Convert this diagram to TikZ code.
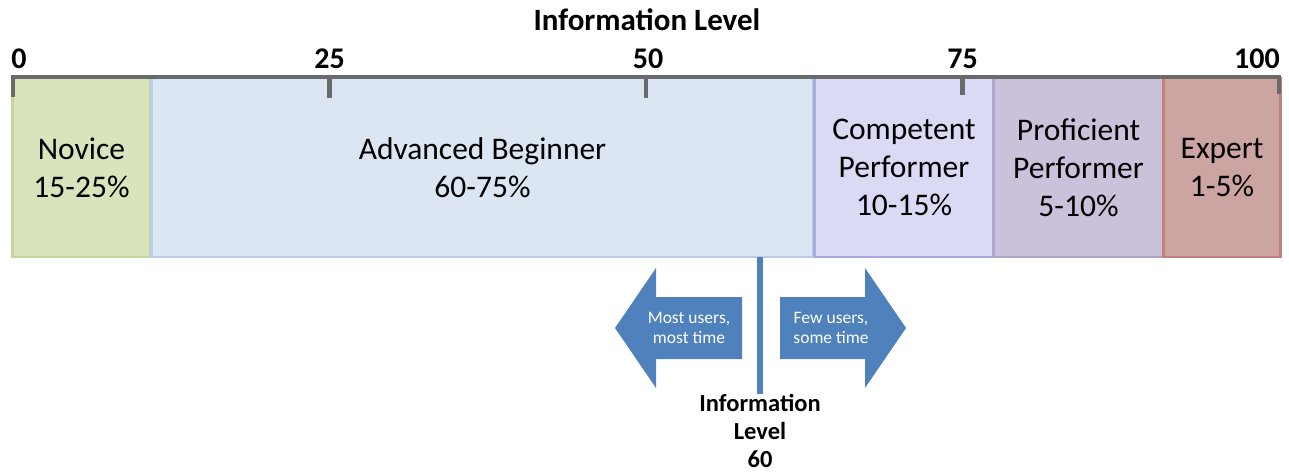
\documentclass[tikz,border=0pt]{standalone}
\usepackage{fontspec}
\setmainfont{Carlito}
\begin{document}
\begin{tikzpicture}[x=1pt,y=-1pt,
  band/.style={draw, line width=2.5pt, rectangle, inner sep=0pt, align=center,
    font=\fontsize{31.5}{38}\selectfont, minimum height=179pt},
  ticklabel/.style={font=\fontsize{30}{34}\selectfont\bfseries, inner sep=0pt},
  axis/.style={draw=axisgray, line width=4.5pt},
  blockarrow/.style={fill=arrowblue},
  arrowtext/.style={text=white, align=center, font=\fontsize{17.5}{20}\selectfont, inner sep=0pt}
]
\definecolor{axisgray}{RGB}{106,106,106}
\definecolor{arrowblue}{RGB}{79,129,189}
\definecolor{novfill}{RGB}{216,228,188}
\definecolor{novdraw}{RGB}{195,214,155}
\definecolor{advfill}{RGB}{220,230,242}
\definecolor{advdraw}{RGB}{185,205,229}
\definecolor{compfill}{RGB}{218,218,244}
\definecolor{compdraw}{RGB}{170,170,228}
\definecolor{proffill}{RGB}{204,193,218}
\definecolor{profdraw}{RGB}{179,162,199}
\definecolor{expfill}{RGB}{204,164,162}
\definecolor{expdraw}{RGB}{192,128,126}

\useasboundingbox (0,0) rectangle (1289,473);

% title
\node[ticklabel, font=\fontsize{31}{34}\selectfont\bfseries] (title) at (647,20) {Information Level};

% skill bands
\node[band, fill=novfill, draw=novdraw, minimum width=138pt] (novice) at (81.5,167.5) {Novice\\15-25\%};
\node[band, fill=advfill, draw=advdraw, minimum width=662pt] (adv) at (482.5,167.5) {Advanced Beginner\\60-75\%};
\node[band, fill=compfill, draw=compdraw, minimum width=179pt] (comp) at (904,167.5) {Competent\\Performer\\10-15\%};
\node[band, fill=proffill, draw=profdraw, minimum width=169pt] (prof) at (1078.5,167.5) {Proficient\\Performer\\5-10\%};
\node[band, fill=expfill, draw=expdraw, minimum width=117pt] (expert) at (1222,167.5) {Expert\\1-5\%};

% axis with ticks
\coordinate (a0) at (13,97);
\coordinate (a100) at (1279,94);
\draw[axis] (a0) -- (13,77) -- (1279,77) -- (a100);
\draw[axis] (329.5,77) -- (329.5,98);
\draw[axis] (646,77) -- (646,98);
\draw[axis] (962.5,77) -- (962.5,95);

% tick labels
\node[ticklabel] (t0) at (19,59) {0};
\node[ticklabel] (t25) at (329.5,59) {25};
\node[ticklabel] (t50) at (648,59) {50};
\node[ticklabel] (t75) at (962.5,59) {75};
\node[ticklabel, anchor=east] (t100) at (1280,59) {100};

% marker for level 60
\node[font=\fontsize{24.5}{28}\selectfont\bfseries, align=center, inner sep=0pt, anchor=north] (mark) at (760,394) {Information\\Level\\60};
\coordinate (mtop) at (760,257);
\draw[arrowblue, line width=5.5pt] (mtop) -- (mark.north);

% block arrows
\fill[blockarrow] (615,328) -- (656,268) -- (656,297) -- (742,297) -- (742,359) -- (656,359) -- (656,388) -- cycle;
\fill[blockarrow] (906,328) -- (865,268) -- (865,297) -- (780,297) -- (780,359) -- (865,359) -- (865,388) -- cycle;
\node[arrowtext] (most) at (689,328) {Most users,\\most time};
\node[arrowtext] (few) at (831,328) {Few users,\\some time};
\end{tikzpicture}
\end{document}
